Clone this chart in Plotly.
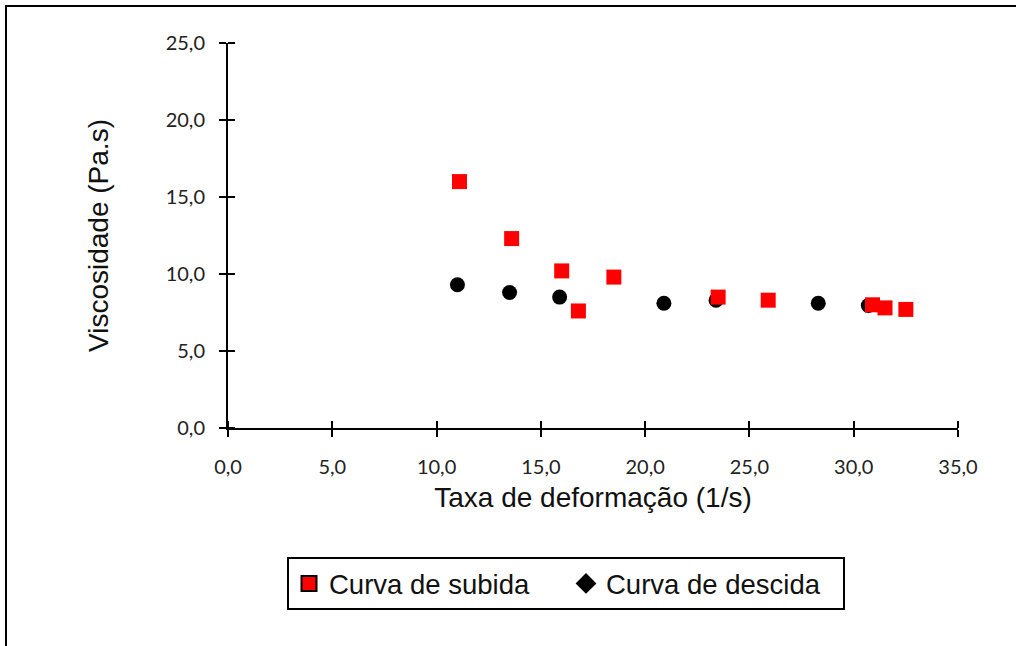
import plotly.graph_objects as go

# Data
subida_x = [11.1, 13.6, 16.0, 16.8, 18.5, 23.5, 25.9, 30.9, 31.5, 32.5]
subida_y = [16.0, 12.3, 10.2, 7.6, 9.8, 8.5, 8.3, 8.0, 7.8, 7.7]
descida_x = [11.0, 13.5, 15.9, 20.9, 23.4, 28.3, 30.7]
descida_y = [9.3, 8.8, 8.5, 8.1, 8.3, 8.1, 7.95]

x_ticks = [0, 5, 10, 15, 20, 25, 30, 35]
y_ticks = [0, 5, 10, 15, 20, 25]

W, H = 1016, 646
L, R, T, B = 228, 58, 43, 218
pw, ph = W - L - R, H - T - B

fig = go.Figure()
fig.add_trace(go.Scatter(x=descida_x, y=descida_y, mode="markers", showlegend=False,
                         marker=dict(symbol="circle", size=15, color="black")))
fig.add_trace(go.Scatter(x=subida_x, y=subida_y, mode="markers", showlegend=False,
                         marker=dict(symbol="square", size=15, color="#ff0000")))
# legend entries
fig.add_trace(go.Scatter(x=[None], y=[None], mode="markers", name="Curva de subida",
                         marker=dict(symbol="square", size=15, color="#ff0000",
                                     line=dict(color="black", width=2))))
fig.add_trace(go.Scatter(x=[None], y=[None], mode="markers", name="Curva de descida",
                         marker=dict(symbol="diamond", size=19, color="black")))

tickfont = dict(family="Lato, Liberation Sans, sans-serif", size=20, color="#222")
titlefont = dict(family="Liberation Sans, Arial, sans-serif", size=28, color="#111")

fig.update_layout(
    width=W, height=H,
    margin=dict(l=L, r=R, t=T, b=B, autoexpand=False),
    paper_bgcolor="white", plot_bgcolor="white",
    separators=",.",
    showlegend=True,
    legend=dict(orientation="h", x=(566 - L) / pw, xanchor="center",
                y=(H - B - 557) / ph, yanchor="top",
                bordercolor="black", borderwidth=2,
                font=dict(family="Liberation Sans, Arial, sans-serif", size=27.5, color="#111"),
                itemsizing="trace", tracegroupgap=0, entrywidth=232, entrywidthmode="pixels"),
    xaxis=dict(range=[0, 35], tickvals=x_ticks, tickformat=".1f", showgrid=False, zeroline=False,
               showline=True, linecolor="black", linewidth=2,
               ticks="outside", ticklen=7, tickwidth=2, tickcolor="black",
               minor=dict(ticks="inside", tickvals=x_ticks, ticklen=7, tickwidth=2, tickcolor="black"),
               tickfont=tickfont, ticklabelstandoff=13,
               title=dict(text="Taxa de deformação (1/s)", font=titlefont, standoff=10)),
    yaxis=dict(range=[0, 25], tickvals=y_ticks, tickformat=".1f", showgrid=False, zeroline=False,
               showline=True, linecolor="black", linewidth=2,
               ticks="outside", ticklen=7, tickwidth=2, tickcolor="black",
               minor=dict(ticks="inside", tickvals=y_ticks, ticklen=7, tickwidth=2, tickcolor="black"),
               tickfont=tickfont, ticklabelstandoff=10,
               title=dict(text="Viscosidade (Pa.s)", font=titlefont, standoff=49)),
)

# outer chart border (partially cropped in the reference)
fig.add_shape(type="rect", xref="paper", yref="paper",
              x0=(6 - L) / pw, x1=(W + 20 - L) / pw,
              y0=(H - B - (H + 20)) / ph, y1=(H - B - 6) / ph,
              line=dict(color="black", width=2), fillcolor="rgba(0,0,0,0)", layer="below")

fig.write_html("out.html")
